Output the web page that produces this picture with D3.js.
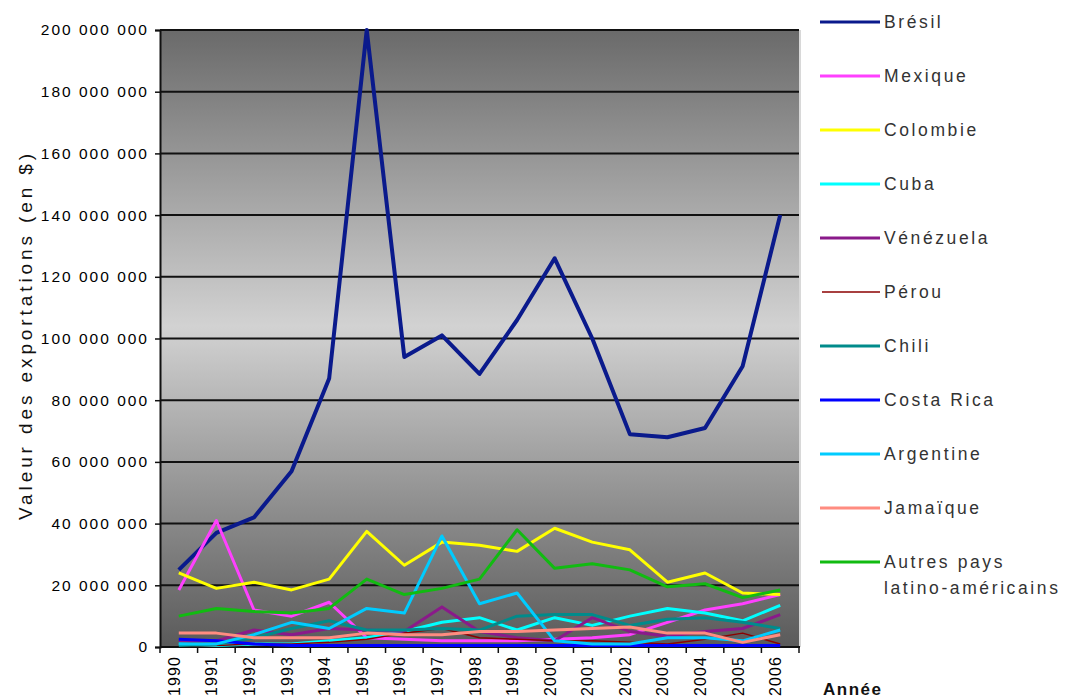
<!DOCTYPE html>
<html><head><meta charset="utf-8">
<script src="https://cdn.jsdelivr.net/npm/d3@7"></script>
<style>body{margin:0;background:#fff}svg{display:block;font-family:"Liberation Sans",Arial,sans-serif}</style>
</head><body><svg id="c" width="1069" height="700"></svg>
<script>
const years = ["1990","1991","1992","1993","1994","1995","1996","1997","1998","1999","2000","2001","2002","2003","2004","2005","2006"];
const yTicks = [0,20e6,40e6,60e6,80e6,100e6,120e6,140e6,160e6,180e6,200e6];
const seriesNames = ["Brésil","Mexique","Colombie","Cuba","Vénézuela","Pérou","Chili","Costa Rica","Argentine","Jamaïque","Autres pays latino-américains"];
const seriesColors = ["#0a1a8c","#ff40ff","#ffff00","#00ffff","#8a1a8a","#8b0000","#008b8b","#0000ff","#00ccff","#ff8c80","#11bb11"];
const bresil    = [25,37,42,57,87,200,94,101,88.5,106,126,100,69,68,71,91,140];
const mexique   = [18.5,41,12,10,14.5,3,2.5,2,2,2,2.5,3,4,8,12,14,17];
const colombie  = [24,19,21,18.5,22,37.5,26.5,34,33,31,38.5,34,31.5,21,24,17.5,17];
const cuba      = [1,0.5,1,1,2,3,5,8,9.5,5.5,9.5,7,10,12.5,11,8.5,13.5];
const venezuela = [2,2,5.5,4,6,5.5,5,13,5,3,2,9.5,5,3.5,5,6,10.5];
const perou     = [0.5,0.5,1,1,1.5,2.5,4.5,6,3,2.5,2,2,1.5,1,2.5,4.5,1];
const chili     = [0.5,1,3,6,8.5,5.5,5.5,6,5.5,10,10.5,10.5,7,9,9.5,8,6];
const costaRica = [2.5,2,1,0.5,0.5,0.5,0.5,0.5,0.5,0.5,0.5,0.5,0.5,0.5,0.5,0.5,0.5];
const argentine = [1,1,4,8,6,12.5,11,36,14,17.5,2,1,1,3,3,2,5.5];
const jamaique  = [4.5,4.5,3,3,3,4.5,4,4,5,5,5.5,6,6.5,4.5,4.5,1.5,4];
const autres    = [10,12.5,11.5,11,12.5,22,17,19,22,38,25.5,27,25,19.5,20.5,16,18.5];
const seriesData = [bresil,mexique,colombie,cuba,venezuela,perou,chili,costaRica,argentine,jamaique,autres];
const seriesWidths = [4,3,3,3,3,1.5,3,3,3,3,3];

const svg = d3.select("#c");
const L=160,R=799,T=30,B=647;
const x = d3.scaleBand().domain(years).range([L,R]);
const y = d3.scaleLinear().domain([0,200e6]).range([B,T]);

const defs = svg.append("defs");
const g = defs.append("linearGradient").attr("id","bg").attr("x1",0).attr("y1",0).attr("x2",0).attr("y2",1);
g.append("stop").attr("offset","0%").attr("stop-color","#6a6a6a");
g.append("stop").attr("offset","48%").attr("stop-color","#d2d2d2");
g.append("stop").attr("offset","100%").attr("stop-color","#5a5a5a");
defs.append("clipPath").attr("id","clip").append("rect").attr("x",L).attr("y",T-3).attr("width",R-L).attr("height",B-T+3);

svg.append("rect").attr("x",L).attr("y",T).attr("width",R-L).attr("height",B-T).attr("fill","url(#bg)");
svg.append("line").attr("x1",R+1).attr("x2",R+1).attr("y1",T).attr("y2",B).attr("stroke","#d8d8d8").attr("stroke-width",2);

// grid
svg.append("g").selectAll("line").data(yTicks.slice(1)).join("line")
  .attr("x1",L).attr("x2",R).attr("y1",d=>y(d)).attr("y2",d=>y(d))
  .attr("stroke","#111").attr("stroke-width",2);

// y axis
const ya = svg.append("g").attr("transform",`translate(${L},0)`)
  .call(d3.axisLeft(y).tickValues(yTicks).tickSize(5).tickPadding(6)
    .tickFormat(d=>d3.format(",")(d).replace(/,/g," ")));
ya.select(".domain").attr("stroke","#111").attr("stroke-width",2);
ya.selectAll(".tick line").attr("stroke","#111").attr("stroke-width",1.5);
ya.selectAll("text").attr("font-size",15.5).attr("letter-spacing","2px").attr("fill","#000").attr("font-family","Liberation Sans, Arial");

// x axis
const xa = svg.append("g").attr("transform",`translate(0,${B})`);
xa.append("line").attr("x1",L).attr("x2",R+1).attr("y1",0).attr("y2",0).attr("stroke","#111").attr("stroke-width",2);
const bounds = years.map(d=>x(d)).concat([R]);
xa.selectAll("line.t").data(bounds).join("line").attr("class","t")
  .attr("x1",d=>d).attr("x2",d=>d).attr("y1",0).attr("y2",6).attr("stroke","#111").attr("stroke-width",1.5);
xa.selectAll("text").data(years).join("text")
  .attr("transform",d=>`translate(${x(d)+x.bandwidth()/2+1},9) rotate(-90)`)
  .attr("text-anchor","end").attr("font-size",16).attr("letter-spacing","1.1px").attr("fill","#000").text(d=>d);

// lines
const line = d3.line().x((d,i)=>x(years[i])+x.bandwidth()/2).y(d=>y(d*1e6));
svg.append("g").attr("clip-path","url(#clip)").selectAll("path").data(seriesData).join("path")
  .attr("d",d=>line(d)).attr("fill","none")
  .attr("stroke",(d,i)=>seriesColors[i]).attr("stroke-width",(d,i)=>seriesWidths[i])
  .attr("stroke-linejoin","round");

// titles
svg.append("text").attr("transform","translate(32,335) rotate(-90)").attr("text-anchor","middle")
  .attr("font-size",19).attr("letter-spacing","3.9px").attr("fill","#111").text("Valeur des exportations (en $)");
svg.append("text").attr("x",823).attr("y",695).attr("font-size",17).attr("letter-spacing","1.5px").attr("font-weight","bold").attr("fill","#111").text("Année");

// legend
const lg = svg.append("g");
seriesNames.forEach((n,i)=>{
  const yy = 22 + i*54;
  lg.append("line").attr("x1",i===5?822:820).attr("x2",880).attr("y1",yy).attr("y2",yy)
    .attr("stroke",seriesColors[i]).attr("stroke-width",i===5?1.5:3);
  const t = lg.append("text").attr("x",884).attr("y",yy+6).attr("font-size",17.5).attr("letter-spacing","2.6px").attr("fill","#333");
  if(i===10){
    t.append("tspan").attr("x",884).text("Autres pays");
    t.append("tspan").attr("x",884).attr("dy",26).text("latino-américains");
  } else t.text(n);
});
</script></body></html>
